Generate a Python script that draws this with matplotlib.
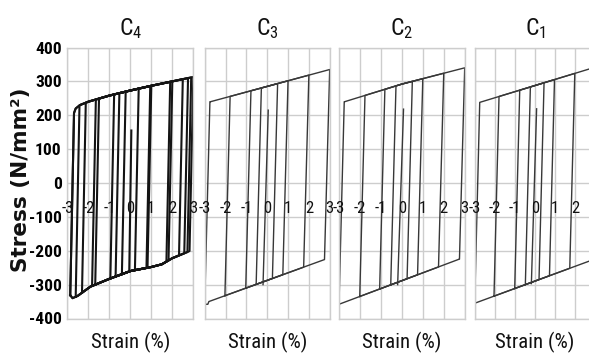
import numpy as np
import matplotlib
matplotlib.use("Agg")
import matplotlib.pyplot as plt
from matplotlib import font_manager

# narrow sans for the labels, whatever is installed
_names = {f.name for f in font_manager.fontManager.ttflist}
_cands = ["Liberation Sans Narrow", "Roboto Condensed", "Open Sans Condensed", "Liberation Sans"]
NARROW = next(c for c in _cands if c in _names)
K = 1.0 if NARROW != "Liberation Sans" else 0.86

plt.rcParams.update({
    "font.family": NARROW, "axes.unicode_minus": False,
    "mathtext.fontset": "custom", "mathtext.rm": NARROW, "mathtext.it": NARROW,
})

GRID = "#cdcdcd"
strain_ticks = [-3, -2, -1, 0, 1, 2, 3]
stress_ticks = [-400, -300, -200, -100, 0, 100, 200, 300, 400]

# ---- C4: envelope branches (strain %, stress N/mm2) and cycle peaks ----
c4_up_x = [-2.72, -2.6, -2.4, -2.0, -1.0, 0.0, 1.0, 2.0, 3.0]
c4_up_y = [200, 220, 230, 240, 258, 273, 287, 300, 313]
c4_lo_x = [-2.9, -2.75, -2.5, -1.9, -1.0, 0.0, 1.0, 1.5, 2.0, 2.75, 3.0]
c4_lo_y = [-328, -340, -333, -306, -283, -260, -248, -240, -222, -203, -195]
c4_pos = [0.4, 0.95, 1.0, 1.9, 2.0, 2.5, 2.75, 2.9, 3.0]
c4_neg = [0.4, 0.95, 0.7, 1.82, 1.67, 2.3, 2.6, 2.86, 2.86]
c4_init_x = [-0.05, 0.05]
c4_init_y = [-262, 155]

# ---- C3 ----
c3_up_x = [-2.72, 3.0]
c3_up_y = [240, 335]
c3_lo_x = [-3.0, -2.85, -2.8, 2.75]
c3_lo_y = [-358, -358, -350, -226]
c3_pos = [0.5, 1.0, 2.0, 3.0]
c3_neg = [0.53, 1.03, 2.03, 3.0]
c3_init_x = [-0.2, 0.05]
c3_init_y = [-300, 215]

# ---- C2 ----
c2_up_x = [-2.73, 0.0, 3.0]
c2_up_y = [240, 292, 340]
c2_lo_x = [-3.0, 2.73]
c2_lo_y = [-358, -225]
c2_pos = [0.5, 1.0, 2.0, 3.0]
c2_neg = [0.53, 1.06, 2.01, 3.0]
c2_init_x = [-0.2, 0.08]
c2_init_y = [-300, 218]

# ---- C1 ----
c1_up_x = [-2.75, 3.0]
c1_up_y = [238, 342]
c1_lo_x = [-3.0, 3.0]
c1_lo_y = [-355, -224]
c1_pos = [0.45, 0.97, 1.98, 3.0]
c1_neg = [0.48, 1.01, 2.04, 3.0]
c1_init_x = [-0.18, 0.08]
c1_init_y = [-297, 219]


def loop(a_pos, a_neg, up_x, up_y, lo_x, lo_y, e):
    # one cycle: reload from -a_neg, along upper branch to +a_pos, unload, back along lower branch
    x0, x1 = -a_neg, a_pos
    xt, xb = x0 + e, x1 - e
    ux = [xt] + [x for x in up_x if xt < x < x1] + [x1]
    lx = [xb] + [x for x in lo_x[::-1] if x0 < x < xb] + [x0]
    xs = [x0] + ux + lx
    ys = ([np.interp(x0, lo_x, lo_y)] + list(np.interp(ux, up_x, up_y))
          + list(np.interp(lx, lo_x, lo_y)))
    return xs, ys


panels = [
    ("C$_4$", c4_up_x, c4_up_y, c4_lo_x, c4_lo_y, c4_pos, c4_neg, c4_init_x, c4_init_y, 0.18, "#141414", 1.5),
    ("C$_3$", c3_up_x, c3_up_y, c3_lo_x, c3_lo_y, c3_pos, c3_neg, c3_init_x, c3_init_y, 0.25, "#383838", 1.0),
    ("C$_2$", c2_up_x, c2_up_y, c2_lo_x, c2_lo_y, c2_pos, c2_neg, c2_init_x, c2_init_y, 0.25, "#383838", 1.0),
    ("C$_1$", c1_up_x, c1_up_y, c1_lo_x, c1_lo_y, c1_pos, c1_neg, c1_init_x, c1_init_y, 0.25, "#383838", 1.0),
]
# axes boxes in pixels (left, width) on a 589 x 356 canvas; C1 runs off the right edge
boxes = [(67.3, 126.0), (204.7, 125.0), (339.0, 125.7), (474.7, 120.6)]
W, H = 589, 356
top_px, bot_px = 47.5, 318.5

fig = plt.figure(figsize=(W / 100, H / 100), dpi=100)
for i, ((title, ux, uy, lx, ly, pos, neg, ix, iy, e, col, lw), (l, w)) in enumerate(zip(panels, boxes)):
    ax = fig.add_axes([l / W, (H - bot_px) / H, w / W, (bot_px - top_px) / H])
    ax.set_xlim(-3, 3); ax.set_ylim(-400, 400)
    ax.set_xticks(strain_ticks); ax.set_yticks(stress_ticks)
    ax.grid(True, color=GRID, lw=1.0); ax.set_axisbelow(True)
    for s in ax.spines.values():
        s.set_color(GRID); s.set_linewidth(1.0)
    ax.tick_params(length=0, labelbottom=False, labelleft=(i == 0), pad=4)
    if i == 0:
        ax.set_yticklabels([str(v) for v in stress_ticks], fontsize=12.5 * K, fontweight="bold")
    for a_p, a_n in zip(pos, neg):
        xs, ys = loop(a_p, a_n, ux, uy, lx, ly, e)
        ax.plot(xs, ys, color=col, lw=lw, solid_joinstyle="round")
    ax.plot(ix, iy, color=col, lw=lw)
    for t in strain_ticks:
        ax.text(t, -75, str(t), ha="center", va="center", fontsize=12 * K, color="#111111", clip_on=False)
    ax.set_title(title, fontsize=17 * K, pad=9, color="#111111")
    fig.text((l + w / 2) / W, 1 - 342 / H, "Strain (%)", ha="center", va="center",
             fontsize=15 * K, color="#111111")

fig.text(21 / W, 1 - 180 / H, "Stress (N/mm²)", rotation=90, ha="center", va="center",
         fontsize=15.5, fontweight="bold", family="DejaVu Sans", color="#111111")

fig.savefig("out.png", dpi=100)
